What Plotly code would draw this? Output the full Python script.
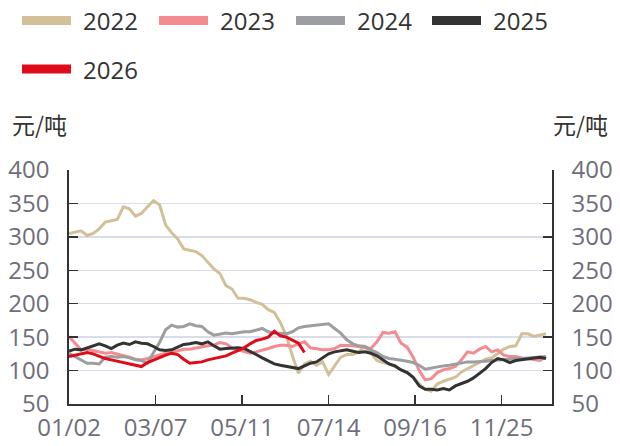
import plotly.graph_objects as go

# ---- data (trading-day index, every 3rd day) ----
day_index = list(range(0, 240, 3))
tick_vals = [0, 43, 86, 129, 172, 215]
tick_labels = ["01/02", "03/07", "05/11", "07/14", "09/16", "11/25"]
y_ticks = [50, 100, 150, 200, 250, 300, 350, 400]

s2022 = [305, 307, 309, 302, 305, 312, 322, 324, 326, 345, 342, 331, 335, 345, 354, 348,
         318, 306, 297, 282, 280, 278, 272, 262, 252, 245, 227, 222, 208, 208, 206, 202,
         199, 191, 187, 172, 152, 122, 96, 110, 114, 108, 113, 94, 108, 120, 124, 124,
         128, 136, 126, 115, 112, 110, 106, 101, 98, 90, 80, 72, 69, 80, 84, 87,
         90, 98, 103, 108, 113, 117, 119, 126, 132, 136, 137, 155, 155, 151, 153, 155]
s2023 = [151, 141, 131, 132, 130, 127, 126, 127, 125, 122, 120, 117, 116, 118, 121, 124,
         126, 127, 130, 132, 132, 134, 136, 137, 138, 142, 140, 134, 131, 128, 126, 128,
         130, 133, 136, 138, 138, 136, 140, 143, 134, 132, 131, 131, 133, 138, 138, 137,
         136, 135, 133, 143, 157, 156, 158, 141, 135, 120, 100, 86, 88, 97, 101, 103,
         106, 116, 128, 126, 132, 136, 128, 131, 123, 121, 121, 119, 118, 116, 115, 121]
s2024 = [126, 121, 117, 111, 111, 110, 120, 121, 120, 121, 119, 116, 115, 111, 127, 142,
         161, 168, 165, 166, 170, 167, 166, 158, 153, 155, 156, 155, 157, 158, 158, 160,
         163, 158, 156, 156, 155, 158, 164, 166, 167, 168, 170, 170, 163, 156, 146, 140,
         137, 136, 131, 127, 121, 118, 117, 116, 114, 112, 108, 102, 104, 106, 107, 108,
         110, 112, 113, 113, 113, 114, 115, 116, 117, 117, 118, 118, 119, 120, 120, 121]
s2025 = [129, 132, 131, 134, 138, 140, 137, 133, 138, 141, 139, 143, 141, 140, 136, 131,
         130, 131, 135, 139, 140, 142, 140, 143, 137, 132, 133, 134, 134, 133, 129, 124,
         119, 115, 110, 108, 106, 104, 103, 107, 111, 113, 119, 125, 128, 129, 131, 129,
         127, 128, 126, 122, 116, 110, 107, 101, 97, 90, 77, 72, 72, 71, 73, 71,
         77, 80, 84, 89, 96, 103, 112, 118, 116, 112, 115, 116, 117, 118, 120, 118]
s2026 = [121, 123, 126, 127, 125, 121, 118, 116, 114, 113, 111, 109, 106, 112, 116, 119,
         123, 126, 124, 117, 111, 112, 113, 116, 118, 121, 122, 126, 130, 134, 140, 145,
         147, 150, 159, 152, 150, 146, 141, 127]

series_names = ["2022", "2023", "2024", "2025", "2026"]
series_values = [s2022, s2023, s2024, s2025, s2026]
series_colors = ["#d3bf98", "#f48b91", "#9c9ea1", "#333333", "#e00b18"]

unit = "元/吨"

# ---- layout geometry (page pixels; body margin removed by post_script) ----
W, H = 620, 446
L, R, T, B = 69, 552, 170, 404

def px(x):
    return (x - L) / (R - L)

def py(y):
    return (B - y) / (B - T)

fig = go.Figure()
for name, vals, col in zip(series_names, series_values, series_colors):
    fig.add_trace(go.Scatter(
        x=day_index[:len(vals)], y=vals, name=name, mode="lines",
        line=dict(color=col, width=3), showlegend=False,
    ))

tick_font = dict(family="Open Sans, Noto Sans CJK SC, sans-serif", size=24, color="#6e6e7a")
axis_col = "#333333"

fig.update_layout(
    width=W, height=H,
    margin=dict(l=L, r=W - R, t=T, b=H - B, autoexpand=False),
    paper_bgcolor="white", plot_bgcolor="white",
    xaxis=dict(
        range=[0, 240], tickmode="array", tickvals=tick_vals, ticktext=tick_labels,
        ticks="inside", ticklen=9, tickwidth=1.5, tickcolor=axis_col,
        showline=True, linecolor=axis_col, linewidth=1.8, automargin=False,
        showgrid=False, zeroline=False, tickfont=tick_font, ticklabelstandoff=1,
    ),
    yaxis=dict(
        range=[50, 400], tickmode="array", tickvals=y_ticks,
        ticks="inside", ticklen=9, tickwidth=1.5, tickcolor=axis_col,
        showline=True, linecolor=axis_col, linewidth=1.8, automargin=False,
        showgrid=True, gridcolor="#d9dcea", gridwidth=1.5,
        zeroline=False, tickfont=tick_font, ticklabelstandoff=13,
    ),
    yaxis2=dict(
        range=[50, 400], tickmode="array", tickvals=y_ticks,
        overlaying="y", side="right", anchor="x",
        ticks="inside", ticklen=9, tickwidth=1.5, tickcolor=axis_col,
        showline=True, linecolor=axis_col, linewidth=1.8, automargin=False,
        showgrid=False, zeroline=False, tickfont=tick_font, ticklabelstandoff=13,
    ),
)

# invisible trace to activate right axis
fig.add_trace(go.Scatter(x=[None], y=[None], yaxis="y2", showlegend=False, hoverinfo="skip"))

# ---- manual legend ----
leg_font = dict(family="Open Sans, Noto Sans CJK SC, sans-serif", size=24, color="#333333")
positions = [(22, 20.5), (159, 20.5), (296, 20.5), (432, 20.5), (22, 69)]
for (x0, yc), name, col in zip(positions, series_names, series_colors):
    fig.add_shape(type="line", xref="paper", yref="paper",
                  x0=px(x0), x1=px(x0 + 49), y0=py(yc), y1=py(yc),
                  line=dict(color=col, width=9))
    fig.add_annotation(xref="paper", yref="paper", x=px(x0 + 59), y=py(yc),
                       text=name, showarrow=False, xanchor="left", yanchor="middle",
                       font=leg_font)

unit_font = dict(family="Noto Sans CJK SC, sans-serif", size=23, color="#333333")
fig.add_annotation(xref="paper", yref="paper", x=px(10), y=py(124), text=unit,
                   showarrow=False, xanchor="left", yanchor="middle", font=unit_font)
fig.add_annotation(xref="paper", yref="paper", x=px(610), y=py(124), text=unit,
                   showarrow=False, xanchor="right", yanchor="middle", font=unit_font)

fig.write_html("out.html",
               config={"displayModeBar": False, "staticPlot": True},
               post_script="document.body.style.margin='0';document.body.style.overflow='hidden';")
